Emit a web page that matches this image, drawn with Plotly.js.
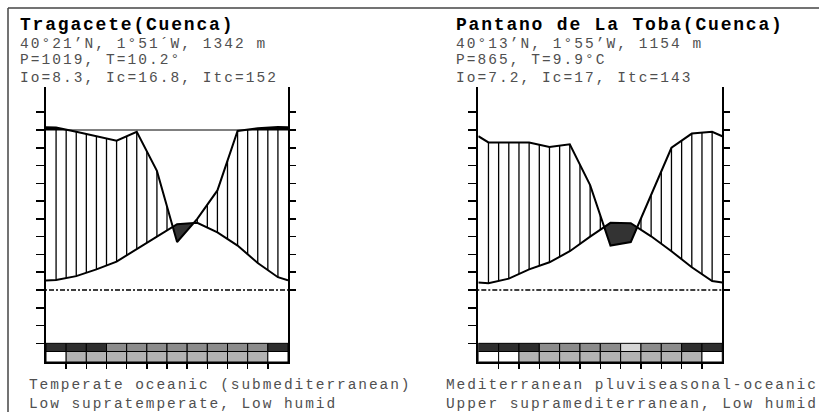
<!DOCTYPE html>
<html>
<head>
<meta charset="utf-8">
<script src="https://cdn.plot.ly/plotly-3.0.1.min.js"></script>
<style>
  html, body { margin: 0; padding: 0; background: #fff; overflow: hidden; }
  #chart { width: 819px; height: 412px; }
</style>
</head>
<body>
<div id="chart"></div>
<script>
// Ombrothermic diagrams of two stations in Cuenca (Spain).
// Temperature in °C on the left axis, precipitation in mm on the right (1 °C = 2 mm).

const months = ['Jan', 'Feb', 'Mar', 'Apr', 'May', 'Jun', 'Jul', 'Aug', 'Sep', 'Oct', 'Nov', 'Dec'];

// --- Tragacete (Cuenca) ---
const tragaceteTemp = [2.8, 3.9, 5.8, 8.0, 11.6, 15.0, 18.5, 18.9, 16.2, 12.5, 7.6, 3.6];
const tragacetePrec = [125, 89, 86.5, 84, 89, 67, 27, 40, 56, 89.5, 115, 132];
const tragaceteTempEdge = 2.7;   // value at 1 Jan / 31 Dec
const tragacetePrecEdge = 128;
// frost row: 2 = certain frost, 1 = probable frost, 0 = frost free
const tragaceteFrost = [2, 2, 2, 1, 1, 1, 1, 1, 1, 1, 1, 2];
// activity row: 1 = active month, 0 = inactive
const tragaceteActivity = [0, 1, 1, 1, 1, 1, 1, 1, 1, 1, 1, 0];
const tragaceteHeader = ['Tragacete(Cuenca)', '40°21’N, 1°51´W, 1342 m', 'P=1019, T=10.2°', 'Io=8.3, Ic=16.8, Itc=152'];
const tragaceteFooter = ['Temperate oceanic (submediterranean)', 'Low supratemperate, Low humid'];

// --- Pantano de La Toba (Cuenca) ---
const tobaTemp = [1.9, 3.2, 5.8, 7.8, 10.9, 15.0, 18.9, 18.8, 15.1, 10.9, 6.4, 2.5];
const tobaPrec = [83, 83, 83, 80.5, 82, 59, 25, 27, 53, 80, 88, 89];
const tobaTempEdge = 2.1;
const tobaPrecEdge = 86.5;
const tobaFrost = [2, 2, 2, 1, 1, 1, 1, 0, 1, 1, 2, 2];
const tobaActivity = [0, 0, 1, 1, 1, 1, 1, 1, 1, 1, 1, 0];
const tobaHeader = ['Pantano de La Toba(Cuenca)', '40°13’N, 1°55’W, 1154 m', 'P=865, T=9.9°C', 'Io=7.2, Ic=17, Itc=143'];
const tobaFooter = ['Mediterranean pluviseasonal-oceanic', 'Upper supramediterranean, Low humid'];

// --- drawing constants ---
const W = 819, H = 412;
const MM_PER_DEG = 2;          // precipitation scale
const CAP = 90;                // precipitation above this is squeezed
const SQUEEZE = 0.04;
const PX_PER_DEG = 160 / 45;
const ZERO_PX = 290;
const PLOT_TOP = 87.3, PLOT_BOTTOM = 362;
const T_MIN = (ZERO_PX - PLOT_BOTTOM) / PX_PER_DEG;
const T_MAX = (ZERO_PX - PLOT_TOP) / PX_PER_DEG;
const STRIP_TOP = -15, STRIP_MID = -17.3;
const FONT = '"Liberation Mono", "Courier New", monospace';
const TEXT_GREY = '#505050';

// typewriter-like text: small glyphs on a wide pitch
const TITLE_SIZE = 18, TITLE_PITCH = 12.6;
const BODY_SIZE = 14.5, BODY_PITCH = 10.75, FOOT_PITCH = 10.62;

const frostColor = { 2: '#2e2e2e', 1: '#8c8c8c', 0: '#d6d6d6' };
const activityColor = { 1: '#b3b3b3', 0: '#ffffff' };

const stations = [
  { temp: tragaceteTemp, prec: tragacetePrec, tEdge: tragaceteTempEdge, pEdge: tragacetePrecEdge,
    frost: tragaceteFrost, act: tragaceteActivity, header: tragaceteHeader, footer: tragaceteFooter,
    left: 46, right: 288, headX: 18.5, footX: 28, xa: 'x', ya: 'y', pa: 'y3' },
  { temp: tobaTemp, prec: tobaPrec, tEdge: tobaTempEdge, pEdge: tobaPrecEdge,
    frost: tobaFrost, act: tobaActivity, header: tobaHeader, footer: tobaFooter,
    left: 478.3, right: 722.3, headX: 454.5, footX: 444.5, xa: 'x2', ya: 'y2', pa: 'y4' }
];

const squeeze = p => (p <= CAP ? p : CAP + (p - CAP) * SQUEEZE);

function interp(xs, ys, x) {
  for (let i = 1; i < xs.length; i++) {
    if (x <= xs[i]) {
      const r = (x - xs[i - 1]) / (xs[i] - xs[i - 1]);
      return ys[i - 1] + r * (ys[i] - ys[i - 1]);
    }
  }
  return ys[ys.length - 1];
}

// closed polygons where curve a lies above curve b
function regions(xs, a, b) {
  const polys = [];
  let top = [], bot = [];
  for (let i = 0; i < xs.length; i++) {
    const d = a[i] - b[i];
    if (i > 0) {
      const dp = a[i - 1] - b[i - 1];
      if ((dp > 0) !== (d > 0)) {
        const r = dp / (dp - d);
        const xc = xs[i - 1] + r * (xs[i] - xs[i - 1]);
        const yc = a[i - 1] + r * (a[i] - a[i - 1]);
        top.push([xc, yc]); bot.push([xc, yc]);
        if (dp > 0) { polys.push(top.concat(bot.reverse())); top = []; bot = []; }
      }
    }
    if (d > 0) { top.push([xs[i], a[i]]); bot.push([xs[i], b[i]]); }
  }
  if (top.length) polys.push(top.concat(bot.reverse()));
  return polys;
}

function polyTrace(polys, xa, ya, color) {
  const x = [], y = [];
  polys.forEach(p => { p.forEach(pt => { x.push(pt[0]); y.push(pt[1]); }); x.push(null); y.push(null); });
  return { type: 'scatter', mode: 'lines', x, y, xaxis: xa, yaxis: ya, fill: 'toself',
           fillcolor: color, line: { width: 0, color: color }, hoverinfo: 'skip', showlegend: false };
}

const traces = [];
const shapes = [];
const annotations = [];
const letterSpacing = [];
const layout = {
  width: W, height: H, margin: { l: 0, r: 0, t: 0, b: 0 },
  paper_bgcolor: '#fff', plot_bgcolor: 'rgba(0,0,0,0)', showlegend: false
};

const yDomain = [(H - PLOT_BOTTOM) / H, (H - PLOT_TOP) / H];
const tTicks = [], pTicks = [];
for (let t = STRIP_TOP; t <= 50; t += 5) tTicks.push(t);
for (let p = 0; p <= 100; p += 10) pTicks.push(p);
const boundaryTicks = months.slice(1).map((m, i) => i + 1);

function addText(txt, xPx, baselinePx, size, pitch, color, bold) {
  annotations.push({ xref: 'paper', yref: 'paper', x: xPx / W, y: 1 - (baselinePx - 0.267 * size) / H,
                     xanchor: 'left', yanchor: 'middle', align: 'left', showarrow: false, borderpad: 0,
                     text: bold ? '<b>' + txt + '</b>' : txt,
                     font: { family: FONT, size: size, color: color } });
  letterSpacing.push(pitch - 0.6 * size);
}

stations.forEach((s, k) => {
  const xs = [0].concat(months.map((m, i) => i + 0.5), [12]);
  const tv = [s.tEdge].concat(s.temp, [s.tEdge]);
  const pv = [s.pEdge].concat(s.prec, [s.pEdge]);
  const pShown = pv.map(squeeze);
  const pInDeg = pShown.map(p => p / MM_PER_DEG);

  // humid period: vertical hatching every half month between the two curves
  const hx = [], hy = [];
  for (let h = 0.5; h < 12; h += 0.5) {
    const t = interp(xs, tv, h), p = interp(xs, pInDeg, h);
    if (p > t + 0.3) { hx.push(h, h, null); hy.push(t, p, null); }
  }
  traces.push({ type: 'scatter', mode: 'lines', x: hx, y: hy, xaxis: s.xa, yaxis: s.ya,
                line: { color: '#000', width: 1.3 }, hoverinfo: 'skip' });

  // dry period: temperature above precipitation
  traces.push(polyTrace(regions(xs, tv, pInDeg), s.xa, s.ya, '#333333'));

  // squeezed precipitation above the cap
  const capDeg = xs.map(() => CAP / MM_PER_DEG);
  const over = regions(xs, pInDeg, capDeg);
  if (over.length) traces.push(polyTrace(over, s.xa, s.ya, '#000'));

  // temperature curve
  traces.push({ type: 'scatter', mode: 'lines', x: xs, y: tv, xaxis: s.xa, yaxis: s.ya,
                line: { color: '#000', width: 2 }, hoverinfo: 'skip' });

  // cap line, only where precipitation goes beyond it
  if (s.prec.some(p => p > CAP)) {
    traces.push({ type: 'scatter', mode: 'lines', x: [0, 12], y: [CAP, CAP], xaxis: s.xa, yaxis: s.pa,
                  line: { color: '#000', width: 1 }, hoverinfo: 'skip' });
  }
  // precipitation curve (mm, right axis)
  traces.push({ type: 'scatter', mode: 'lines', x: xs, y: pShown, xaxis: s.xa, yaxis: s.pa,
                line: { color: '#000', width: 2 }, hoverinfo: 'skip' });

  const xKey = k === 0 ? 'xaxis' : 'xaxis2';
  const yKey = k === 0 ? 'yaxis' : 'yaxis2';
  const pKey = k === 0 ? 'yaxis3' : 'yaxis4';
  layout[xKey] = {
    domain: [s.left / W, s.right / W], range: [0, 12], anchor: s.ya,
    showline: true, linecolor: '#000', linewidth: 1.5,
    ticks: 'outside', tickmode: 'array', tickvals: boundaryTicks, ticklen: 5, tickwidth: 1.5, tickcolor: '#000',
    showticklabels: false, showgrid: false, zeroline: false, fixedrange: true
  };
  layout[yKey] = {
    domain: yDomain, range: [T_MIN, T_MAX], anchor: s.xa,
    showline: true, linecolor: '#000', linewidth: 2,
    ticks: 'outside', tickmode: 'array', tickvals: tTicks, ticklen: 8, tickwidth: 1.5, tickcolor: '#000',
    showticklabels: false, showgrid: false, zeroline: false, fixedrange: true
  };
  layout[pKey] = {
    overlaying: s.ya, side: 'right', anchor: s.xa,
    range: [T_MIN * MM_PER_DEG, T_MAX * MM_PER_DEG],
    showline: true, linecolor: '#000', linewidth: 2,
    ticks: 'outside', tickmode: 'array', tickvals: pTicks, ticklen: 6, tickwidth: 1.5, tickcolor: '#000',
    showticklabels: false, showgrid: false, zeroline: false, fixedrange: true
  };

  // 0 °C line, running a little past both axes
  shapes.push({ type: 'line', xref: 'paper', yref: s.ya, x0: (s.left - 8) / W, x1: (s.right + 6) / W, y0: 0, y1: 0,
                line: { color: '#000', width: 1.5, dash: '5px,2px,2px,2px' } });

  // monthly strip below the diagram
  s.frost.forEach((f, i) => {
    shapes.push({ type: 'rect', xref: s.xa, yref: s.ya, x0: i, x1: i + 1, y0: STRIP_MID, y1: STRIP_TOP,
                  fillcolor: frostColor[f], line: { color: '#000', width: 1 } });
  });
  s.act.forEach((a, i) => {
    shapes.push({ type: 'rect', xref: s.xa, yref: s.ya, x0: i, x1: i + 1, y0: T_MIN, y1: STRIP_MID,
                  fillcolor: activityColor[a], line: { color: '#000', width: 1 } });
  });

  // header and footer text
  const headBase = [30, 47.8, 64.2, 81.7];
  s.header.forEach((txt, i) => {
    if (i === 0) addText(txt, s.headX, headBase[i], TITLE_SIZE, TITLE_PITCH, '#000', true);
    else addText(txt, s.headX, headBase[i], BODY_SIZE, BODY_PITCH, TEXT_GREY, false);
  });
  const footBase = [389.3, 407.6];
  s.footer.forEach((txt, i) => addText(txt, s.footX, footBase[i], BODY_SIZE, FOOT_PITCH, TEXT_GREY, false));
});

// outer frame (top and left edges)
shapes.push({ type: 'line', xref: 'paper', yref: 'paper', x0: 8 / W, x1: 1, y0: 1 - 8 / H, y1: 1 - 8 / H,
              line: { color: '#444', width: 1.5 } });
shapes.push({ type: 'line', xref: 'paper', yref: 'paper', x0: 8 / W, x1: 8 / W, y0: 0, y1: 1 - 8 / H,
              line: { color: '#444', width: 1.5 } });

layout.shapes = shapes;
layout.annotations = annotations;

Plotly.newPlot('chart', traces, layout, { displayModeBar: false, staticPlot: true }).then(gd => {
  // widen the pitch of each text line
  gd.querySelectorAll('g.annotation').forEach(g => {
    const i = +g.getAttribute('data-index');
    const t = g.querySelector('.annotation-text');
    if (t && letterSpacing[i] !== undefined) t.style.letterSpacing = letterSpacing[i].toFixed(2) + 'px';
  });
});
</script>
</body>
</html>
